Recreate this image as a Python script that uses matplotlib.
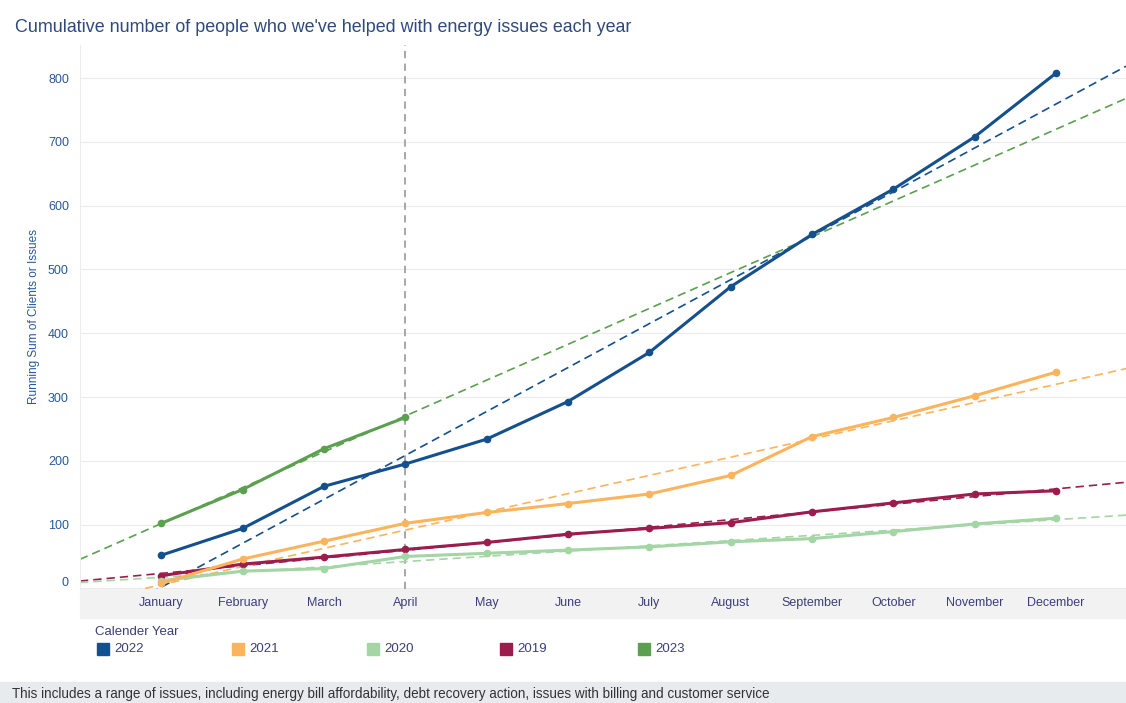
import numpy as np
import matplotlib
matplotlib.use('Agg')
import matplotlib.pyplot as plt
from matplotlib.patches import Rectangle
from matplotlib.transforms import ScaledTranslation

plt.rcParams['font.family'] = ['Liberation Sans', 'DejaVu Sans']

months = ['January', 'February', 'March', 'April', 'May', 'June', 'July',
          'August', 'September', 'October', 'November', 'December']

# running sums
y2022 = [52, 94, 160, 195, 234, 293, 370, 473, 555, 626, 708, 808]
y2021 = [8, 46, 74, 102, 119, 133, 148, 177, 238, 268, 302, 339]
y2020 = [12, 27, 31, 50, 55, 60, 65, 73, 78, 89, 101, 110]
y2019 = [20, 38, 49, 61, 72, 85, 94, 103, 120, 134, 148, 153]
y2023 = [102, 155, 219, 268]

years = ['2022', '2021', '2020', '2019', '2023']
colors = {'2022': '#15508E', '2021': '#FBB45C', '2020': '#A3D5A5',
          '2019': '#9C1C4E', '2023': '#5BA04E'}
series = {'2022': y2022, '2021': y2021, '2020': y2020, '2019': y2019, '2023': y2023}

fig = plt.figure(figsize=(11.26, 7.03), dpi=100)

# grey band behind month labels, and caption band
fig.patches.append(Rectangle((80 / 1126, 1 - 618 / 703), 1, 29 / 703,
                             transform=fig.transFigure, color='#F2F2F2', zorder=-5))
fig.patches.append(Rectangle((0, 0), 1, 21 / 703, transform=fig.transFigure,
                             color='#E8EBEE', zorder=-5))

ax = fig.add_axes([80 / 1126, 1 - 589 / 703, 1 - 80 / 1126, (589 - 45) / 703])
ax.patch.set_alpha(0)

xmax = 12.86
xx = np.array([0, xmax])

# draw order: blue on top
for yr in ['2019', '2020', '2021', '2023', '2022']:
    vals = series[yr]
    x = np.arange(1, len(vals) + 1)
    c = colors[yr]
    # trend line (linear fit over the whole axis)
    k, b = np.polyfit(x, vals, 1)
    ax.plot(xx, k * xx + b, color=c, lw=1.2, dashes=(5, 3), zorder=2)
    ax.plot(x, vals, color=c, lw=2.2, marker='o', markersize=4.5, zorder=3)

# April marker line
ax.axvline(4, color='#A0A0A0', lw=1.3, dashes=(4, 3), zorder=1)

ax.set_xlim(0, xmax)
ax.set_ylim(-1, 852)
ax.set_yticks(range(0, 900, 100))
ax.set_xticks(range(1, 13))
ax.set_xticklabels(months)
ax.tick_params(axis='x', length=0, pad=6, labelsize=9, labelcolor='#3C3F7A')
ax.tick_params(axis='y', length=0, pad=8, labelsize=9, labelcolor='#2B5797')
ax.grid(axis='y', color='#EBEBEB', lw=0.8)
ax.set_axisbelow(True)
for s in ['top', 'right', 'bottom']:
    ax.spines[s].set_visible(False)
ax.spines['left'].set_color('#EDEDED')
ax.set_ylabel('Running Sum of Clients or Issues', fontsize=8.5, color='#2B5797', labelpad=6)

# the 0 label sits a little above the axis floor
lab0 = ax.get_yticklabels()[0]
lab0.set_transform(lab0.get_transform() + ScaledTranslation(0, 7 / 100, fig.dpi_scale_trans))

fig.text(15 / 1126, 1 - 27 / 703,
         "Cumulative number of people who we've helped with energy issues each year",
         fontsize=12.9, color='#2E4A7D', va='center')

# legend
fig.text(95 / 1126, 1 - 632 / 703, 'Calender Year', fontsize=9.5, color='#3C3F7A', va='center')
lx = [97, 232, 367, 500, 638]
for x0, yr in zip(lx, years):
    fig.patches.append(Rectangle((x0 / 1126, 1 - 655 / 703), 12 / 1126, 12 / 703,
                                 transform=fig.transFigure, color=colors[yr]))
    fig.text((x0 + 17) / 1126, 1 - 649 / 703, yr, fontsize=9.5, color='#3C3F7A', va='center')

fig.text(12 / 1126, 1 - 694 / 703,
         'This includes a range of issues, including energy bill affordability, debt recovery action, '
         'issues with billing and customer service',
         fontsize=9.75, color='#333333', va='center')

fig.savefig('out.png', dpi=100)
